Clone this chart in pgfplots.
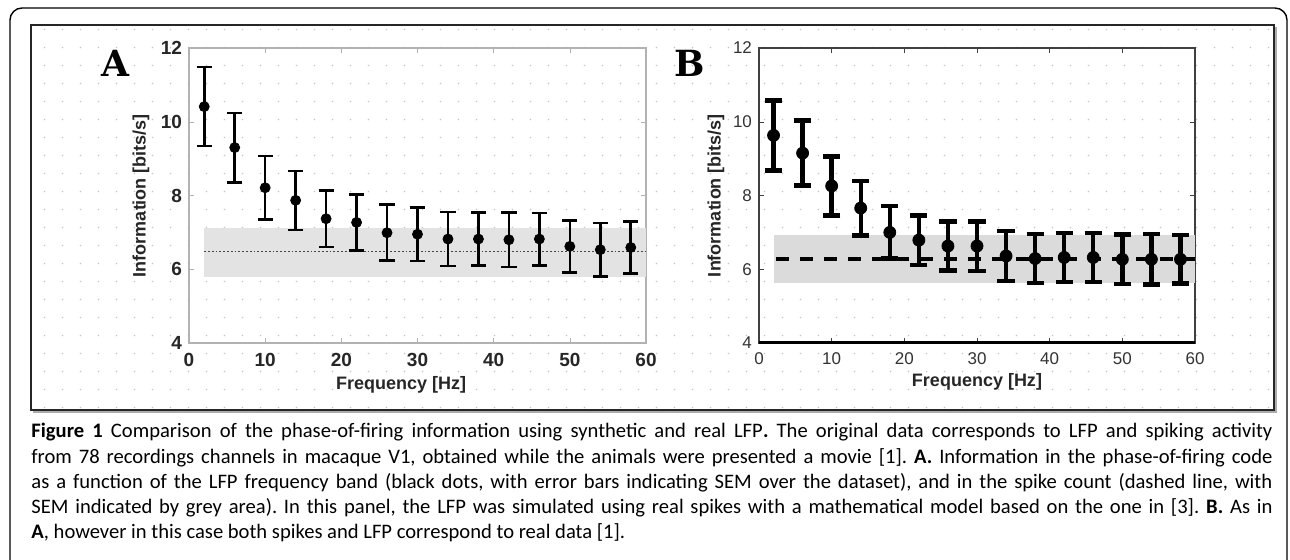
\documentclass[border=0pt]{standalone}
\usepackage{fontspec}
\setmainfont{Liberation Sans}
\newfontfamily\capfont{Carlito}
\newfontfamily\slab{DejaVu Serif}
\usepackage{pgfplots}
\usepackage{pgfplotstable}
\pgfplotsset{compat=1.18}
\usetikzlibrary{patterns.meta}

\tikzdeclarepattern{
  name=bgdots,
  type=colored,
  bounding box={(0,0) and (9pt,9pt)},
  tile size={(9pt,9pt)},
  code={\fill[gray!45] (4.5pt,4.5pt) circle (0.45pt);}
}

% panel A: synthetic LFP
\pgfplotstableread{
f I e
2 10.41 1.07
6 9.30 0.94
10 8.21 0.86
14 7.87 0.80
18 7.37 0.77
22 7.27 0.76
26 6.99 0.76
30 6.95 0.73
34 6.82 0.73
38 6.82 0.72
42 6.80 0.74
46 6.82 0.71
50 6.62 0.70
54 6.53 0.72
58 6.59 0.70
}\dataA

% panel B: real LFP
\pgfplotstableread{
f I e
2 9.63 0.95
6 9.15 0.88
10 8.26 0.80
14 7.66 0.74
18 7.00 0.71
22 6.79 0.67
26 6.63 0.66
30 6.63 0.67
34 6.36 0.68
38 6.29 0.66
42 6.32 0.66
46 6.32 0.66
50 6.27 0.67
54 6.27 0.68
58 6.27 0.66
}\dataB

\pgfplotsset{
  panel/.style={
    scale only axis, height=147.5pt,
    xmin=0, xmax=60, ymin=4, ymax=12,
    xtick={0,10,...,60}, ytick={4,6,...,12},
    tick align=inside, major tick length=2.5pt,
    /pgf/number format/assume math mode=true,
  }
}

\begin{document}
\frenchspacing
\begin{tikzpicture}
\useasboundingbox (0,0) rectangle (645pt,279.5pt);
% frames and dotted background
\draw[line width=0.7pt, rounded corners=6pt] (5pt,-20pt) -- (5pt,275.5pt) -- (643.5pt,275.5pt) -- (643.5pt,-20pt);
\fill[pattern=bgdots] (15.5pt,74.5pt) rectangle (637pt,267pt);
\draw[line width=1.2pt, gray!65] (16.5pt,73.5pt) -- (638pt,73.5pt) -- (638pt,266pt);
\draw[line width=0.9pt, black!85] (15.5pt,74.5pt) rectangle (637pt,267pt);

\node[font=\slab\bfseries\fontsize{18}{18}\selectfont] at (57.5pt,248pt) {A};
\node[font=\slab\bfseries\fontsize{18}{18}\selectfont] at (345pt,248pt) {B};

\begin{axis}[panel,
  at={(94.5pt,108pt)}, anchor=south west, width=228.5pt,
  axis line style={gray!60, line width=0.8pt},
  tick style={gray!60},
  ticklabel style={font=\bfseries\fontsize{9.5}{9.5}\selectfont, text=black!85},
  xticklabel style={yshift=-1.5pt},
  xlabel={Frequency [Hz]}, ylabel={Information [bits/s]},
  label style={font=\bfseries\fontsize{9}{9}\selectfont, text=black!85},
  xlabel style={at={(axis description cs:0.464,-0.142)}, anchor=center},
  ylabel style={at={(axis description cs:-0.105,0.5)}, anchor=center},
]
\addplot[fill=gray!22, draw=none] coordinates {(2,5.80) (60,5.80) (60,7.13) (2,7.13)} -- cycle;
\addplot[gray!55!black, densely dotted, line width=0.9pt] coordinates {(2,6.48) (60,6.48)};
\addplot[black, only marks, mark=*, mark size=2.5pt,
  error bars/.cd, y dir=both, y explicit,
  error bar style={line width=1.3pt},
  error mark options={rotate=90, mark size=3.8pt, line width=1.3pt}]
  table[x=f, y=I, y error=e] {\dataA};
\end{axis}

\begin{axis}[panel,
  at={(379.5pt,108pt)}, anchor=south west, width=218pt,
  axis line style={gray!50!black, line width=0.7pt},
  tick style={gray!50!black},
  ticklabel style={font=\fontsize{8.5}{8.5}\selectfont, text=black!80},
  xticklabel style={yshift=-1.5pt},
  xlabel={Frequency [Hz]}, ylabel={Information [bits/s]},
  label style={font=\bfseries\fontsize{9}{9}\selectfont, text=black!85},
  xlabel style={at={(axis description cs:0.5,-0.132)}, anchor=center},
  ylabel style={at={(axis description cs:-0.099,0.5)}, anchor=center},
]
\addplot[fill=gray!28, draw=none] coordinates {(2,5.64) (60,5.64) (60,6.92) (2,6.92)} -- cycle;
\addplot[black, line width=2.2pt, dash pattern=on 6.5pt off 5.5pt] coordinates {(2.4,6.27) (60,6.27)};
\addplot[black, only marks, mark=*, mark size=3pt,
  error bars/.cd, y dir=both, y explicit,
  error bar style={line width=2.2pt},
  error mark options={rotate=90, mark size=4.3pt, line width=2.2pt}]
  table[x=f, y=I, y error=e] {\dataB};
\draw[line width=1.6pt] (rel axis cs:0,0) -- (rel axis cs:1,0);
\end{axis}

\node[anchor=north west, inner sep=0pt, align=left, font=\capfont\fontsize{10.3}{12.6}\selectfont] at (15.5pt,68pt) {%
\makebox[620.5pt][s]{\textbf{Figure 1} Comparison of the phase-of-firing information using synthetic and real LFP\textbf{.} The original data corresponds to LFP and spiking activity}\\
\makebox[620.5pt][s]{from 78 recordings channels in macaque V1, obtained while the animals were presented a movie [1]. \textbf{A.} Information in the phase-of-firing code}\\
\makebox[620.5pt][s]{as a function of the LFP frequency band (black dots, with error bars indicating SEM over the dataset), and in the spike count (dashed line, with}\\
\makebox[620.5pt][s]{SEM indicated by grey area). In this panel, the LFP was simulated using real spikes with a mathematical model based on the one in [3]. \textbf{B.} As in}\\
\textbf{A}, however in this case both spikes and LFP correspond to real data [1].};
\end{tikzpicture}
\end{document}
